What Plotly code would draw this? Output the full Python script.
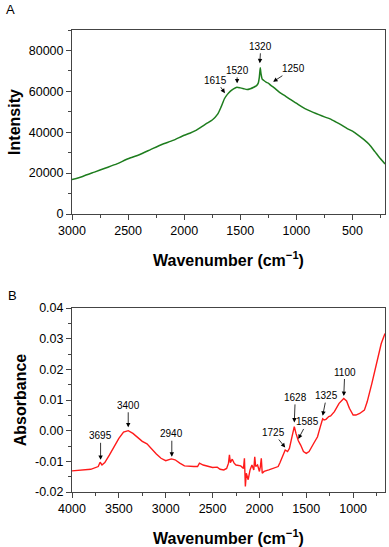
import plotly.graph_objects as go

# ---------------- Panel A (Raman) ----------------
raman_wn = [3000, 2900, 2800, 2700, 2600, 2500, 2400, 2300, 2200, 2100, 2000, 1950, 1900,
            1850, 1800, 1750, 1700, 1670, 1640, 1615, 1590, 1560, 1530, 1500, 1470, 1440,
            1410, 1380, 1355, 1340, 1330, 1322, 1315, 1305, 1290, 1270, 1250, 1230, 1200,
            1150, 1100, 1050, 1000, 950, 900, 850, 800, 750, 700, 650, 600, 550, 500, 450,
            400, 350, 300, 250, 210]
raman_int = [16800, 18500, 20500, 22500, 24500, 27000, 29000, 31500, 34000, 36000, 38500,
             39500, 40800, 42500, 44300, 46000, 49000, 52500, 56500, 58500, 60000, 61200,
             62000, 61700, 61300, 60900, 61300, 62000, 62800, 64000, 67000, 71500, 68500,
             66000, 65300, 64500, 64000, 63000, 61800, 59500, 57800, 55900, 54200, 52400,
             50900, 49700, 48600, 47500, 46500, 45100, 43600, 41900, 40500, 38600, 36500,
             34000, 30500, 27000, 24500]
raman_peaks = ["1615", "1520", "1320", "1250"]
raman_peak_x = [1637, 1528, 1326, 1207]
raman_peak_y = [59100, 63900, 73700, 64700]
raman_ax = [-9, 0, 1, 20]
raman_ay = [-13, -13, -17, -13]

# ---------------- Panel B (FTIR) ----------------
ftir_wn = [4000, 3800, 3720, 3700, 3680, 3650, 3600, 3500, 3450, 3400, 3350, 3300, 3250,
           3200, 3150, 3100, 3050, 3000, 2940, 2900, 2850, 2800, 2700, 2660, 2640, 2600,
           2500, 2450, 2420, 2380, 2350, 2330, 2320, 2310, 2290, 2270, 2250, 2200, 2170,
           2160, 2150, 2140, 2120, 2100, 2080, 2060, 2050, 2040, 2020, 2000, 1990, 1980,
           1970, 1950, 1900, 1850, 1800, 1780, 1750, 1725, 1700, 1680, 1660, 1640, 1628,
           1610, 1585, 1560, 1530, 1500, 1470, 1420, 1380, 1350, 1325, 1310, 1290, 1260,
           1240, 1200, 1150, 1100, 1070, 1040, 1000, 970, 930, 880, 850, 800, 750, 700, 660]
ftir_abs = [-0.0131, -0.0126, -0.0117, -0.0103, -0.0112, -0.0104, -0.0079, -0.0025, -0.0005,
            0.0000, -0.0009, -0.0023, -0.0035, -0.0043, -0.0060, -0.0076, -0.0090, -0.0098,
            -0.0092, -0.0095, -0.0106, -0.0115, -0.0117, -0.0117, -0.0106, -0.0112, -0.0120,
            -0.0119, -0.0126, -0.0128, -0.0123, -0.0106, -0.0079, -0.0104, -0.0093, -0.0106,
            -0.0112, -0.0115, -0.0123, -0.0090, -0.0182, -0.0139, -0.0160, -0.0128, -0.0112,
            -0.0128, -0.0085, -0.0117, -0.0112, -0.0133, -0.0117, -0.0090, -0.0139, -0.0133,
            -0.0128, -0.0123, -0.0117, -0.0104, -0.0079, -0.0063, -0.0068, -0.0058, -0.0030,
            0.0002, 0.0013, -0.0009, -0.0033, -0.0047, -0.0068, -0.0074, -0.0068, -0.0041,
            -0.0020, 0.0013, 0.0039, 0.0035, 0.0037, 0.0046, 0.0048, 0.0062, 0.0089, 0.0105,
            0.0097, 0.0073, 0.0051, 0.0051, 0.0056, 0.0067, 0.0094, 0.0154, 0.0219, 0.0284,
            0.0317]
ftir_peaks = ["3695", "3400", "2940", "1725", "1628", "1585", "1325", "1100"]
ftir_peak_x = [3695, 3400, 2935, 1725, 1628, 1585, 1325, 1100]
ftir_peak_y = [-0.0095, 0.0011, -0.0085, -0.0055, 0.0027, -0.0027, 0.0049, 0.0113]
ftir_ax = [0, 0, 0, -12, 1, 9, 4, 1]
ftir_ay = [-24, -22, -23, -15, -25, -17, -20, -24]
ftir_ytick_vals = [-0.02, -0.01, 0.0, 0.01, 0.02, 0.03, 0.04]
ftir_ytick_text = ["-0.02", "-0.01", "0.00", "0.01", "0.02", "0.03", "0.04"]

FONT = "Liberation Sans, Arial, sans-serif"
W, H = 389, 547
xdom = [72 / W, 385 / W]
ydomA = [1 - 214 / H, 1 - 30 / H]
ydomB = [1 - 492 / H, 1 - 308 / H]

fig = go.Figure()
fig.add_trace(go.Scatter(x=raman_wn, y=raman_int, mode="lines",
                         line=dict(color="#1e7d1e", width=1.5, shape="spline", smoothing=0.5),
                         xaxis="x", yaxis="y", showlegend=False, hoverinfo="skip"))
fig.add_trace(go.Scatter(x=ftir_wn, y=ftir_abs, mode="lines",
                         line=dict(color="#ff1a1a", width=1.4), xaxis="x2", yaxis="y2",
                         showlegend=False, hoverinfo="skip"))

axis_common = dict(showline=True, linecolor="#444", linewidth=1, mirror=True,
                   ticks="outside", ticklen=5, tickwidth=1, tickcolor="#444",
                   showgrid=False, zeroline=False, automargin=False,
                   tickfont=dict(family=FONT, size=12.5, color="black"))
title_font = dict(family=FONT, size=16, color="black")

fig.update_layout(
    width=W, height=H,
    margin=dict(l=0, r=0, t=0, b=0),
    paper_bgcolor="white", plot_bgcolor="white",
    xaxis=dict(domain=xdom, anchor="y", range=[3000, 210], dtick=500, tick0=0,
               minor=dict(dtick=250, ticklen=3, ticks="outside", tickcolor="#444"),
               title=dict(text="<b>Wavenumber (cm<sup>−1</sup>)</b>", font=title_font, standoff=17),
               **axis_common),
    yaxis=dict(domain=ydomA, anchor="x", range=[0, 90000], dtick=20000, tickformat="d",
               minor=dict(dtick=10000, ticklen=3, ticks="outside", tickcolor="#444"),
               title=dict(text="<b>Intensity</b>", font=title_font, standoff=4),
               **axis_common),
    xaxis2=dict(domain=xdom, anchor="y2", range=[4000, 660], dtick=500, tick0=0,
                minor=dict(dtick=250, ticklen=3, ticks="outside", tickcolor="#444"),
                title=dict(text="<b>Wavenumber (cm<sup>−1</sup>)</b>", font=title_font, standoff=17),
                **axis_common),
    yaxis2=dict(domain=ydomB, anchor="x2", range=[-0.02, 0.04],
                tickvals=ftir_ytick_vals, ticktext=ftir_ytick_text,
                minor=dict(dtick=0.005, ticklen=3, ticks="outside", tickcolor="#444"),
                title=dict(text="<b>Absorbance</b>", font=title_font, standoff=4),
                **axis_common),
)

ann = []
for t, x, y, ax, ay in zip(raman_peaks, raman_peak_x, raman_peak_y, raman_ax, raman_ay):
    ann.append(dict(x=x, y=y, xref="x", yref="y", text=t, showarrow=True,
                    ax=ax, ay=ay, arrowhead=2, arrowsize=1.1, arrowwidth=0.8,
                    arrowcolor="black", font=dict(family=FONT, size=10, color="black")))
for t, x, y, ax, ay in zip(ftir_peaks, ftir_peak_x, ftir_peak_y, ftir_ax, ftir_ay):
    ann.append(dict(x=x, y=y, xref="x2", yref="y2", text=t, showarrow=True,
                    ax=ax, ay=ay, arrowhead=2, arrowsize=1.1, arrowwidth=0.8,
                    arrowcolor="black", font=dict(family=FONT, size=10, color="black")))
ann.append(dict(x=4 / W, y=1 - 9 / H, xref="paper", yref="paper", text="A", showarrow=False,
                xanchor="left", yanchor="middle", font=dict(family=FONT, size=13, color="black")))
ann.append(dict(x=6 / W, y=1 - 295 / H, xref="paper", yref="paper", text="B", showarrow=False,
                xanchor="left", yanchor="middle", font=dict(family=FONT, size=13, color="black")))
fig.update_layout(annotations=ann)

fig.write_html("out.html", config={"displayModeBar": False},
               post_script="document.body.style.margin='0';document.body.style.padding='0';")
